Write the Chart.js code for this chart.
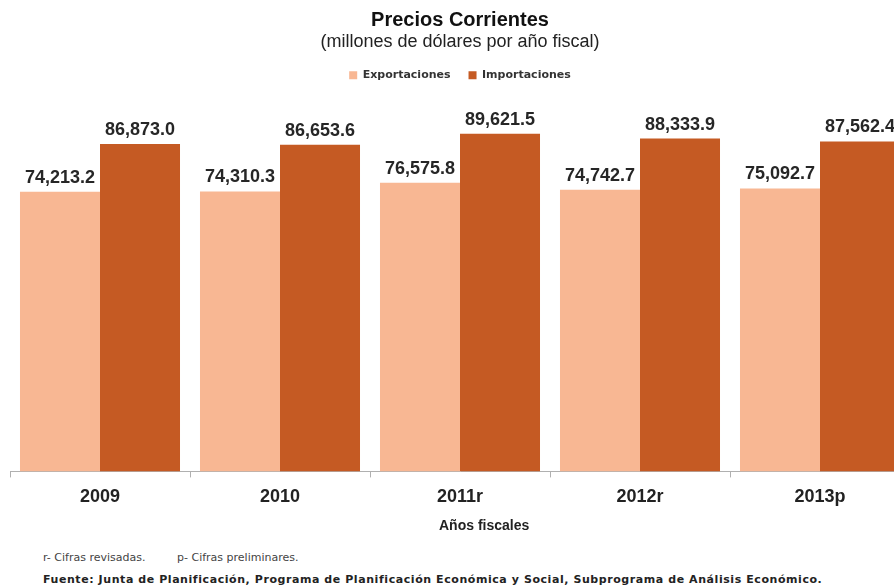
<!DOCTYPE html>
<html>
<head>
<meta charset="utf-8">
<script src="https://cdn.jsdelivr.net/npm/chart.js@4.4.0/dist/chart.umd.min.js"></script>
<style>
  body { margin: 0; background: #fff; overflow: hidden; }
  #wrap { position: relative; width: 894px; height: 585px; overflow: hidden; }
  #chart { position: absolute; left: 0; top: 0; }
  .note { position: absolute; white-space: nowrap; color: #333; }
  #xTitle { left: 439px; top: 516px; font: bold 14px 'Liberation Sans', Arial, sans-serif; line-height: 18px; color: #222; }
  .foot1 { top: 552px; font: 11px 'DejaVu Sans', sans-serif; line-height: 12px; color: #444; }
  #fuente { left: 43px; top: 574px; font: bold 11px 'DejaVu Sans', sans-serif; line-height: 12px; letter-spacing: 0.57px; color: #222; }
</style>
</head>
<body>
<div id="wrap">
  <canvas id="chart" width="912" height="521"></canvas>
  <div class="note" id="xTitle">Años fiscales</div>
  <div class="note foot1" style="left:43px">r- Cifras revisadas.</div>
  <div class="note foot1" style="left:177px">p- Cifras preliminares.</div>
  <div class="note" id="fuente">Fuente: Junta de Planificación, Programa de Planificación Económica y Social, Subprograma de Análisis Económico.</div>
</div>
<script>
// datos (millones de dólares)
const years = ['2009', '2010', '2011r', '2012r', '2013p']
const exportaciones = [74213.2, 74310.3, 76575.8, 74742.7, 75092.7]
const importaciones = [86873.0, 86653.6, 89621.5, 88333.9, 87562.4]

const COLORS = ['#F8B793', '#C55A23']

function fmt(v) {
  return v.toLocaleString('en-US', { minimumFractionDigits: 1, maximumFractionDigits: 1 })
}

// etiquetas encima de cada barra
const barLabels = {
  id: 'barLabels',
  afterDatasetsDraw(chart) {
    const ctx = chart.ctx
    ctx.save()
    ctx.font = "bold 18px 'Liberation Sans', Arial, sans-serif"
    ctx.fillStyle = '#262626'
    ctx.textAlign = 'center'
    ctx.textBaseline = 'alphabetic'
    chart.data.datasets.forEach((ds, i) => {
      chart.getDatasetMeta(i).data.forEach((bar, j) => {
        ctx.fillText(fmt(ds.data[j]), bar.x, bar.y - 9)
      })
    })
    ctx.restore()
  }
}

const config = {
  type: 'bar',
  data: {
    labels: years,
    datasets: [
      { label: 'Exportaciones', data: exportaciones, backgroundColor: COLORS[0], borderWidth: 0 },
      { label: 'Importaciones', data: importaciones, backgroundColor: COLORS[1], borderWidth: 0 }
    ]
  },
  options: {
    responsive: false,
    animation: false,
    layout: { padding: { left: 10, right: 2, top: 1, bottom: 4 } },
    datasets: {
      bar: { categoryPercentage: 0.889, barPercentage: 1.0 }
    },
    scales: {
      x: {
        grid: { offset: true, drawOnChartArea: false, drawTicks: true, tickLength: 6, color: '#b0b0b0' },
        border: { display: true, color: '#b0b0b0', width: 1 },
        ticks: {
          padding: 9,
          color: '#222',
          font: { family: "'Liberation Sans', Arial, sans-serif", size: 18, weight: 'bold' }
        }
      },
      y: {
        display: false,
        min: 0,
        max: 101000
      }
    },
    plugins: {
      title: {
        display: true,
        text: 'Precios Corrientes',
        color: '#111',
        font: { family: "'Liberation Sans', Arial, sans-serif", size: 20, weight: 'bold', lineHeight: 1.2 },
        padding: { top: 7, bottom: 0 }
      },
      subtitle: {
        display: true,
        text: '(millones de dólares por año fiscal)',
        color: '#222',
        font: { family: "'Liberation Sans', Arial, sans-serif", size: 18, lineHeight: 1.1 },
        padding: { top: 0, bottom: 0 }
      },
      legend: {
        labels: {
          boxWidth: 8,
          boxHeight: 8,
          padding: 18,
          color: '#333',
          font: { family: "'DejaVu Sans', sans-serif", size: 11, weight: 'bold' }
        }
      },
      tooltip: { enabled: false }
    }
  },
  plugins: [barLabels]
}

new Chart(document.getElementById('chart').getContext('2d'), config)
</script>
</body>
</html>
